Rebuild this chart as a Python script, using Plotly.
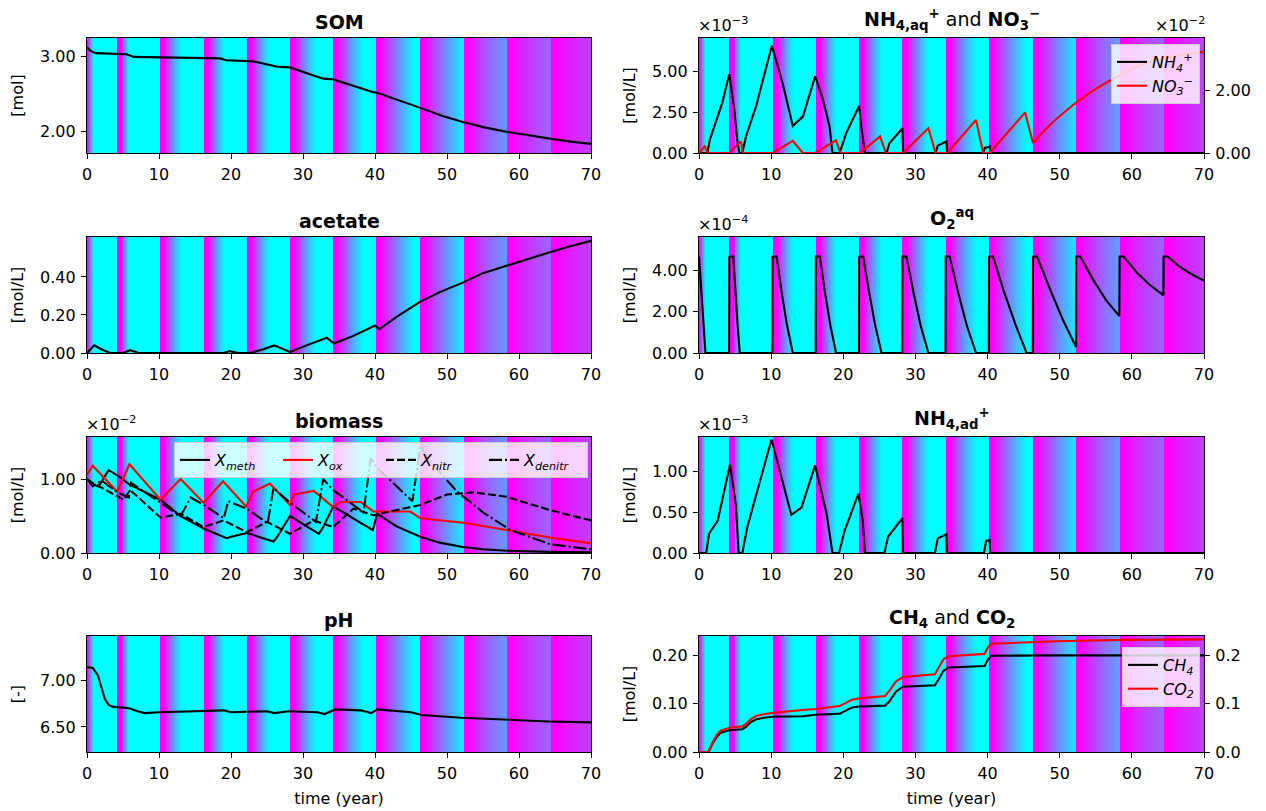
import plotly.graph_objects as go

W, H = 1266, 811

# ---------------- data ----------------
# dissolved oxygen (x1e-4 mol/L); also drives the coloured background of every panel
o2_t = [0, 0.45, 0.9, 4.17, 4.2, 4.75, 5.05, 5.35, 5.66,
        10.17, 10.2, 10.75, 11.45, 12.2, 13.0,
        16.17, 16.2, 16.75, 17.45, 18.2, 19.0,
        22.17, 22.2, 22.75, 23.6, 24.45, 25.3,
        28.17, 28.2, 28.75, 29.75, 30.75, 31.8,
        34.17, 34.2, 34.75, 35.95, 37.15, 38.4,
        40.17, 40.2, 40.75, 42.3, 43.85, 45.4, 46.27,
        46.3, 46.85, 48.65, 50.45, 52.27,
        52.3, 52.85, 54.65, 56.45, 58.27,
        58.3, 58.85, 60.7, 62.5, 64.37,
        64.4, 64.95, 66.6, 68.3, 70]
o2 = [4.68, 2.2, 0.0, 0.0, 4.68, 4.68, 2.9, 1.35, 0.0,
      0.0, 4.68, 4.68, 2.95, 1.35, 0.0,
      0.0, 4.68, 4.68, 2.95, 1.35, 0.0,
      0.0, 4.68, 4.68, 2.9, 1.3, 0.0,
      0.0, 4.68, 4.68, 2.9, 1.3, 0.0,
      0.0, 4.68, 4.68, 2.9, 1.3, 0.0,
      0.0, 4.68, 4.68, 2.95, 1.4, 0.0, 0.0,
      4.68, 4.68, 3.1, 1.6, 0.29,
      4.68, 4.68, 3.55, 2.55, 1.79,
      4.68, 4.68, 3.9, 3.3, 2.81,
      4.68, 4.68, 4.2, 3.82, 3.51]

# soil organic matter (mol)
som_t = [0, 0.5, 1.2, 4.2, 5.5, 6.5, 10.2, 16.2, 18.5, 19.4, 22.2, 23.1, 26.4, 28.2,
         32.8, 34.2, 39.8, 40.3, 46.3, 49.3, 52.2, 55.2, 58.3, 61.3, 64.3, 67.2, 70]
som = [3.12, 3.07, 3.04, 3.035, 3.025, 2.99, 2.985, 2.98, 2.97, 2.945, 2.935, 2.93,
       2.86, 2.85, 2.70, 2.69, 2.52, 2.51, 2.31, 2.205, 2.12, 2.05, 1.99, 1.94,
       1.90, 1.86, 1.83]

# acetate (mol/L)
ac_t = [0, 1.0, 2.0, 3.2, 5.0, 6.0, 7.2, 19.0, 19.8, 21.0, 22.6, 24.5, 26.0, 28.2,
        30.5, 33.3, 34.3, 37.0, 40.0, 40.6, 43.0, 46.3, 49.0, 52.2, 55.0, 58.3,
        61.0, 64.3, 67.0, 70]
ac = [0.0, 0.04, 0.02, 0.0, 0.0, 0.015, 0.0, 0.0, 0.01, 0.0, 0.0, 0.02, 0.04, 0.005,
      0.04, 0.08, 0.05, 0.09, 0.145, 0.125, 0.19, 0.27, 0.32, 0.37, 0.42, 0.46,
      0.49, 0.53, 0.56, 0.59]

# biomass (x1e-2 mol/L)
meth_t = [0, 1.0, 1.6, 3.0, 4.2, 6.0, 10.2, 13.0, 16.2, 19.4, 20.0, 22.2, 25.9, 26.3,
          28.2, 32.2, 32.8, 34.2, 39.7, 40.3, 43.0, 46.3, 49.0, 52.2, 55.0, 58.3, 64.3, 70]
meth = [1.0, 0.92, 0.9, 1.12, 1.05, 0.92, 0.72, 0.5, 0.33, 0.2, 0.22, 0.27, 0.155, 0.2,
        0.5, 0.26, 0.35, 0.63, 0.31, 0.53, 0.36, 0.22, 0.14, 0.08, 0.05, 0.03, 0.015, 0.01]
ox_t = [0, 0.8, 4.2, 5.9, 10.2, 13.0, 16.2, 18.9, 22.1, 23.1, 25.4, 28.2, 28.7, 31.5,
        34.2, 35.2, 38.0, 39.8, 40.7, 44.9, 46.3, 52.3, 58.3, 64.3, 70]
ox = [1.06, 1.18, 0.83, 1.2, 0.72, 1.0, 0.68, 0.97, 0.63, 0.83, 0.94, 0.65, 0.79, 0.84,
      0.62, 0.69, 0.69, 0.56, 0.56, 0.56, 0.47, 0.41, 0.31, 0.21, 0.13]
nitr_t = [0, 5.1, 6.0, 10.2, 13.0, 16.2, 19.0, 22.2, 25.0, 28.2, 31.5, 34.2, 37.0,
          39.8, 43.0, 46.3, 50.0, 53.7, 58.3, 64.3, 70]
nitr = [0.99, 0.72, 0.85, 0.48, 0.53, 0.35, 0.44, 0.28, 0.42, 0.26, 0.44, 0.35, 0.6,
        0.51, 0.58, 0.65, 0.79, 0.82, 0.76, 0.58, 0.44]
denitr_t = [0, 0.8, 2.0, 4.2, 5.8, 6.1, 10.2, 13.0, 14.4, 16.2, 19.0, 19.6, 22.2, 25.1,
            25.9, 28.2, 31.8, 32.8, 34.2, 38.4, 39.4, 40.3, 45.2, 46.3, 48.0, 51.4,
            55.0, 58.8, 64.3, 70]
denitr = [1.0, 0.9, 0.98, 0.82, 0.75, 0.95, 0.68, 0.5, 0.75, 0.65, 0.47, 0.7, 0.6, 0.4,
          0.88, 0.68, 0.42, 1.0, 0.85, 0.55, 1.28, 1.15, 0.7, 1.45, 1.2, 0.83,
          0.55, 0.31, 0.12, 0.05]

# pH (-)
ph_t = [0, 0.8, 1.5, 2.0, 2.5, 3.0, 3.5, 5.0, 6.0, 7.0, 8.0, 10.0, 15.0, 17.0, 19.0,
        20.0, 25.0, 26.0, 28.0, 32.0, 33.0, 34.5, 38.0, 39.5, 40.3, 45.0, 46.5, 52.0,
        58.0, 64.0, 70]
ph = [7.15, 7.14, 7.06, 6.92, 6.80, 6.74, 6.72, 6.71, 6.70, 6.67, 6.65, 6.66, 6.67,
      6.68, 6.68, 6.66, 6.67, 6.65, 6.67, 6.66, 6.64, 6.69, 6.68, 6.65, 6.69, 6.66,
      6.63, 6.60, 6.58, 6.56, 6.55]

# aqueous ammonium (x1e-3 mol/L)
nh4aq_t = [0, 1.16, 1.5, 2.3, 3.2, 4.2, 4.9, 5.3, 5.6, 6.0, 6.5, 7.9, 10.1, 11.6, 13.0,
           14.4, 16.1, 17.2, 18.1, 18.5, 19.5, 20.4, 22.2, 22.5, 23.0, 26.0, 26.4,
           28.2, 28.3, 32.8, 33.1, 34.3, 34.4, 39.4, 39.6, 40.3, 40.4, 70]
nh4aq = [0, 0, 0.81, 1.83, 3.05, 4.84, 2.64, 0.81, 0, 0, 1.0, 2.85, 6.6, 4.27, 1.67,
         2.24, 4.72, 3.25, 1.63, 0, 0, 1.22, 2.89, 1.6, 0, 0, 0.6, 1.52, 0, 0, 0.45,
         0.71, 0, 0, 0.3, 0.4, 0, 0]
# nitrate (x1e-2 mol/L)
no3_t = [0, 0.8, 1.2, 4.2, 5.8, 6.1, 10.2, 13.0, 14.4, 16.1, 19.0, 19.6, 22.3, 25.1,
         25.9, 28.3, 31.8, 32.8, 34.4, 38.4, 39.4, 40.3, 45.2, 46.3, 48.0, 49.6, 52.4,
         54.5, 56.6, 58.9, 61.0, 63.5, 66.5, 70]
no3 = [0, 0.21, 0, 0, 0.37, 0, 0, 0.39, 0, 0, 0.4, 0, 0, 0.53, 0, 0, 0.79, 0, 0, 1.05,
       0, 0, 1.29, 0.32, 0.75, 1.1, 1.63, 1.97, 2.26, 2.55, 2.77, 2.97, 3.12, 3.22]

# adsorbed ammonium (x1e-3 mol/L)
nh4ad_t = [0, 1.0, 1.4, 2.6, 4.3, 5.1, 5.5, 6.0, 6.7, 10.05, 12.8, 14.2, 16.1, 17.7,
           18.5, 19.4, 20.2, 22.1, 22.7, 23.0, 25.7, 26.2, 28.2, 28.25, 32.7, 33.1,
           34.3, 34.35, 39.5, 39.8, 40.3, 40.35, 70]
nh4ad = [0, 0, 0.24, 0.4, 1.09, 0.6, 0, 0, 0.32, 1.40, 0.47, 0.56, 1.08, 0.48, 0, 0,
         0.28, 0.73, 0.4, 0, 0, 0.2, 0.43, 0, 0, 0.18, 0.23, 0, 0, 0.15, 0.16, 0, 0]

# dissolved gases (mol/L)
gas_t = [0, 1.3, 1.9, 2.5, 3.0, 4.2, 6.0, 6.5, 7.2, 8.0, 9.0, 10.2, 14.4, 16.2, 19.5,
         20.3, 21.2, 22.2, 25.8, 26.4, 27.3, 28.3, 32.7, 33.2, 33.9, 34.6, 39.6, 40.0,
         40.5, 49.6, 58.9, 70]
ch4 = [0, 0, 0.018, 0.032, 0.040, 0.045, 0.047, 0.052, 0.062, 0.068, 0.071, 0.073,
       0.074, 0.077, 0.079, 0.085, 0.092, 0.094, 0.096, 0.105, 0.125, 0.135, 0.138,
       0.15, 0.168, 0.175, 0.178, 0.19, 0.199, 0.2, 0.2, 0.2]
co2 = [0, 0, 0.02, 0.036, 0.044, 0.05, 0.053, 0.058, 0.068, 0.075, 0.078, 0.081,
       0.087, 0.089, 0.095, 0.101, 0.108, 0.111, 0.116, 0.127, 0.146, 0.155, 0.161,
       0.174, 0.192, 0.198, 0.203, 0.215, 0.224, 0.229, 0.232, 0.233]

time_ticks = [0, 10, 20, 30, 40, 50, 60, 70]

# ---------------- layout helpers ----------------
FONT = "DejaVu Sans"
TICK_SIZE = 16
TITLE_SIZE = 19
LW = 2.1

col_x = [(87, 591), (699, 1204)]
row_y = [(38, 153), (237, 353), (437, 553), (636, 752)]


def xdom(c):
    return [col_x[c][0] / W, col_x[c][1] / W]


def ydom(r):
    return [1 - row_y[r][1] / H, 1 - row_y[r][0] / H]


# panel index -> (row, col, y range, tick values, tick format, y label)
panels = {
    1: (0, 0, [1.708, 3.242], [2, 3], ".2f", "[mol]"),
    2: (0, 1, [0, 7.07], [0, 2.5, 5.0], ".2f", "[mol/L]"),
    3: (1, 0, [0, 0.61], [0, 0.2, 0.4], ".2f", "[mol/L]"),
    4: (1, 1, [0, 5.63], [0, 2, 4], ".2f", "[mol/L]"),
    5: (2, 0, [0, 1.568], [0, 1], ".2f", "[mol/L]"),
    6: (2, 1, [0, 1.43], [0, 0.5, 1.0], ".2f", "[mol/L]"),
    7: (3, 0, [6.229, 7.485], [6.5, 7.0], ".2f", "[-]"),
    8: (3, 1, [0, 0.24], [0, 0.1, 0.2], ".2f", "[mol/L]"),
}
titles = {
    1: "<b>SOM</b>",
    2: "<b>NH<sub>4,aq</sub><sup>+</sup></b> and <b>NO<sub>3</sub><sup>−</sup></b>",
    3: "<b>acetate</b>",
    4: "<b>O<sub>2</sub><sup>aq</sup></b>",
    5: "<b>biomass</b>",
    6: "<b>NH<sub>4,ad</sub><sup>+</sup></b>",
    7: "<b>pH</b>",
    8: "<b>CH<sub>4</sub></b> and <b>CO<sub>2</sub></b>",
}

fig = go.Figure()
layout = dict(
    width=W, height=H, margin=dict(l=0, r=0, t=0, b=0),
    paper_bgcolor="white", plot_bgcolor="white",
    font=dict(family=FONT, size=TICK_SIZE, color="black"),
    annotations=[],
)

axis_common = dict(showline=True, linecolor="black", linewidth=1.2, mirror=True,
                   ticks="outside", ticklen=5, tickwidth=1.1, tickcolor="black",
                   showgrid=False, zeroline=False, automargin=False,
                   ticklabelstandoff=2,
                   tickfont=dict(family=FONT, size=TICK_SIZE, color="black"))

cool = [[0, "#00ffff"], [1, "#ff00ff"]]
o2_max = max(o2)

for i, (r, c, yr, tv, tf, ylab) in panels.items():
    xk = "xaxis" if i == 1 else f"xaxis{i}"
    yk = "yaxis" if i == 1 else f"yaxis{i}"
    xref = "x" if i == 1 else f"x{i}"
    yref = "y" if i == 1 else f"y{i}"
    xa = dict(axis_common, domain=xdom(c), anchor=yref, range=[0, 70],
              tickvals=time_ticks)
    if r == 3:
        xa["title"] = dict(text="time (year)", font=dict(family=FONT, size=TICK_SIZE),
                           standoff=10)
    layout[xk] = xa
    layout[yk] = dict(axis_common, domain=ydom(r), anchor=xref, range=yr, tickvals=tv,
                      tickformat=tf,
                      title=dict(text=ylab, font=dict(family=FONT, size=TICK_SIZE),
                                 standoff=12))
    # oxygen-coloured background
    fig.add_trace(go.Heatmap(x=o2_t, y=yr, z=[o2, o2], colorscale=cool, zmin=0,
                             zmax=o2_max, zsmooth="best", showscale=False,
                             hoverinfo="skip", xaxis=xref, yaxis=yref))
    # panel title
    layout["annotations"].append(dict(
        text=titles[i], xref="paper", yref="paper",
        x=sum(xdom(c)) / 2, y=ydom(r)[1], xanchor="center", yanchor="bottom",
        yshift=3, showarrow=False, font=dict(family=FONT, size=TITLE_SIZE)))


def offset_label(i, text, right=False):
    r, c = panels[i][0], panels[i][1]
    layout["annotations"].append(dict(
        text=text, xref="paper", yref="paper",
        x=xdom(c)[1] if right else xdom(c)[0], y=ydom(r)[1],
        xanchor="right" if right else "left", yanchor="bottom", yshift=1,
        xshift=-3 if not right else 3,
        showarrow=False, font=dict(family=FONT, size=TICK_SIZE)))


offset_label(2, "×10<sup>−3</sup>")
offset_label(2, "×10<sup>−2</sup>", right=True)
offset_label(4, "×10<sup>−4</sup>")
offset_label(5, "×10<sup>−2</sup>")
offset_label(6, "×10<sup>−3</sup>")

# secondary (right) axes
layout["yaxis9"] = dict(axis_common, mirror=False, overlaying="y2", side="right",
                        anchor="x2", range=[0, 3.66], tickvals=[0, 2], tickformat=".2f")
layout["yaxis10"] = dict(axis_common, mirror=False, overlaying="y8", side="right",
                         anchor="x8", range=[0, 0.24], tickvals=[0, 0.1, 0.2],
                         tickformat=".1f")


def line(x, y, xa, ya, name=None, color="black", dash="solid", legend=None):
    return go.Scatter(x=x, y=y, mode="lines", xaxis=xa, yaxis=ya, name=name,
                      line=dict(color=color, width=LW, dash=dash),
                      showlegend=legend is not None, legend=legend,
                      hoverinfo="skip")


fig.add_trace(line(som_t, som, "x", "y"))
fig.add_trace(line(nh4aq_t, nh4aq, "x2", "y2", "<i>NH<sub>4</sub><sup>+</sup></i>",
                   legend="legend"))
fig.add_trace(line(no3_t, no3, "x2", "y9", "<i>NO<sub>3</sub><sup>−</sup></i>",
                   color="#ff0000", legend="legend"))
fig.add_trace(line(ac_t, ac, "x3", "y3"))
fig.add_trace(line(o2_t, o2, "x4", "y4"))
fig.add_trace(line(meth_t, meth, "x5", "y5", "<i>X<sub>meth</sub></i>", legend="legend2"))
fig.add_trace(line(ox_t, ox, "x5", "y5", "<i>X<sub>ox</sub></i>", color="#ff0000",
                   legend="legend2"))
fig.add_trace(line(nitr_t, nitr, "x5", "y5", "<i>X<sub>nitr</sub></i>",
                   dash="8px,3px", legend="legend2"))
fig.add_trace(line(denitr_t, denitr, "x5", "y5", "<i>X<sub>denitr</sub></i>",
                   dash="13px,3px,2px,3px", legend="legend2"))
fig.add_trace(line(nh4ad_t, nh4ad, "x6", "y6"))
fig.add_trace(line(ph_t, ph, "x7", "y7"))
fig.add_trace(line(gas_t, ch4, "x8", "y8", "<i>CH<sub>4</sub></i>", legend="legend3"))
fig.add_trace(line(gas_t, co2, "x8", "y10", "<i>CO<sub>2</sub></i>", color="#ff0000",
                   legend="legend3"))

legend_style = dict(bgcolor="rgba(255,255,255,0.8)", bordercolor="#cccccc",
                    borderwidth=1, font=dict(family=FONT, size=TICK_SIZE),
                    tracegroupgap=0, itemwidth=30)
layout["legend"] = dict(legend_style, x=1200 / W, xanchor="right", y=1 - 44 / H,
                        yanchor="top")
layout["legend2"] = dict(legend_style, orientation="h", x=588 / W, xanchor="right",
                         y=1 - 442 / H, yanchor="top", entrywidth=58,
                         entrywidthmode="pixels")
layout["legend3"] = dict(legend_style, x=1200 / W, xanchor="right", y=1 - 647 / H,
                         yanchor="top")

fig.update_layout(**layout)
fig.write_html("out.html")
